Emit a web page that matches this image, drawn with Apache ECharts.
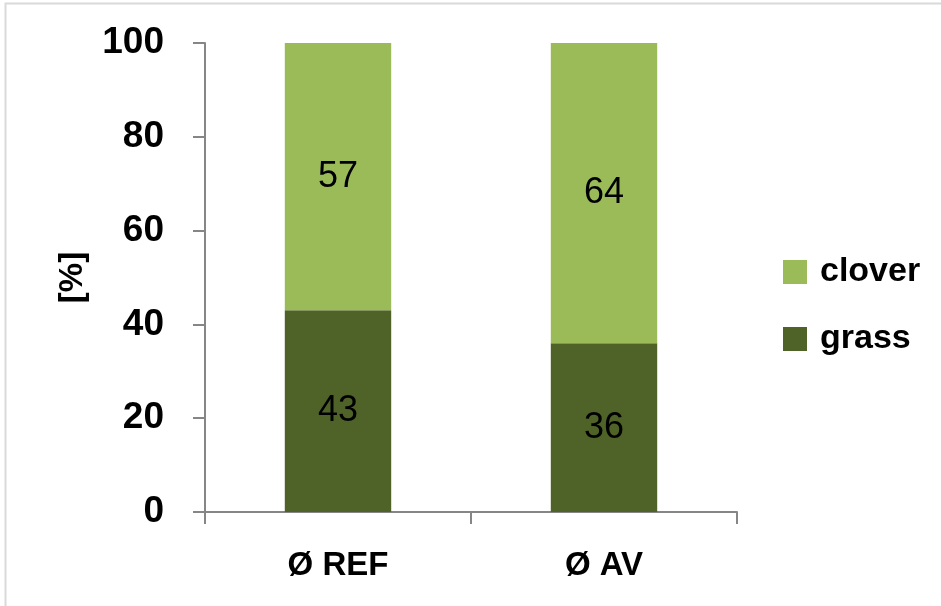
<!DOCTYPE html>
<html>
<head>
<meta charset="utf-8">
<script src="https://cdn.jsdelivr.net/npm/echarts@6/dist/echarts.min.js"></script>
<style>
  html, body { margin: 0; padding: 0; background: #ffffff; }
  #chart { width: 941px; height: 606px; }
</style>
</head>
<body>
<div id="chart"></div>
<script>
// Sward composition per treatment, in percent
const categories = ['Ø REF', 'Ø AV'];
const grassShare = [43, 36];
const cloverShare = [57, 64];
const yTicks = { min: 0, max: 100, interval: 20 };

const FONT = '"Liberation Sans", Arial, sans-serif';
const AXIS_GREY = '#868686';

const chart = echarts.init(document.getElementById('chart'));

chart.setOption({
  backgroundColor: '#ffffff',
  animation: false,
  textStyle: { fontFamily: FONT },
  graphic: [{
    type: 'rect',
    shape: { x: 5.5, y: 3.5, width: 1000, height: 1000 },
    style: { fill: 'none', stroke: '#d9d9d9', lineWidth: 2 },
    silent: true,
    z: -10
  }],
  grid: { left: 205, right: 204, top: 43, bottom: 94 },
  legend: {
    orient: 'vertical',
    left: 783,
    top: 255,
    padding: 0,
    itemWidth: 24,
    itemHeight: 24,
    itemGap: 33,
    icon: 'rect',
    data: ['clover', 'grass'],
    textStyle: { fontFamily: FONT, fontSize: 34, fontWeight: 'bold', color: '#000000', padding: [0, 0, 0, 8] }
  },
  xAxis: {
    type: 'category',
    data: categories,
    axisLine: { lineStyle: { color: AXIS_GREY, width: 2 } },
    axisTick: { show: true, length: 12, lineStyle: { color: AXIS_GREY, width: 2 } },
    axisLabel: { margin: 37, fontFamily: FONT, fontSize: 33, fontWeight: 'bold', color: '#000000' }
  },
  yAxis: {
    type: 'value',
    min: yTicks.min,
    max: yTicks.max,
    interval: yTicks.interval,
    name: '[%]',
    nameLocation: 'middle',
    nameGap: 116,
    nameTextStyle: { fontFamily: FONT, fontSize: 33, fontWeight: 'bold', color: '#000000' },
    axisLine: { show: true, lineStyle: { color: AXIS_GREY, width: 2 } },
    axisTick: { show: true, length: 12, lineStyle: { color: AXIS_GREY, width: 2 } },
    splitLine: { show: false },
    axisLabel: { margin: 41, fontFamily: FONT, fontSize: 37, fontWeight: 'bold', color: '#000000' }
  },
  series: [
    {
      name: 'grass',
      type: 'bar',
      stack: 'share',
      data: grassShare,
      barWidth: '40%',
      itemStyle: { color: '#4F6228' },
      label: { show: true, position: 'inside', fontFamily: FONT, fontSize: 36, color: '#000000' }
    },
    {
      name: 'clover',
      type: 'bar',
      stack: 'share',
      data: cloverShare,
      barWidth: '40%',
      itemStyle: { color: '#9BBB59' },
      label: { show: true, position: 'inside', fontFamily: FONT, fontSize: 36, color: '#000000' }
    }
  ]
});
</script>
</body>
</html>
